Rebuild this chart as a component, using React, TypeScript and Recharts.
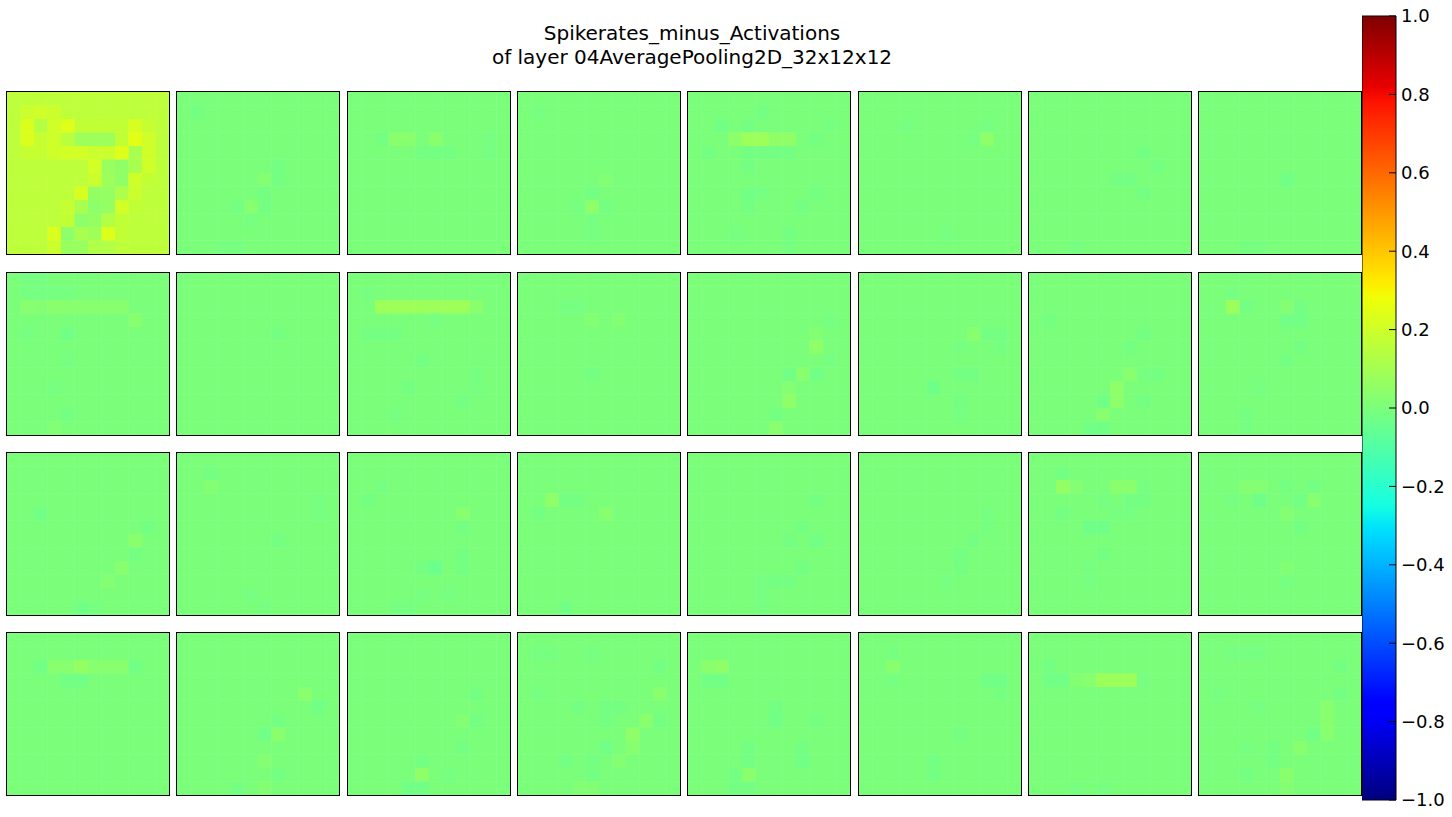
import { ScatterChart, Scatter, XAxis, YAxis, BarChart, Bar } from "recharts";

type Cell = [number, number, number]; // row, col, value

// map 0: the digit, every cell read
const digitMap: number[][] = [
  [0.16, 0.16, 0.16, 0.16, 0.16, 0.16, 0.16, 0.16, 0.16, 0.16, 0.16, 0.16],
  [0.16, 0.19, 0.2, 0.19, 0.16, 0.16, 0.16, 0.16, 0.16, 0.16, 0.16, 0.16],
  [0.16, 0.23, 0.14, 0.2, 0.24, 0.17, 0.17, 0.17, 0.17, 0.22, 0.18, 0.16],
  [0.16, 0.23, 0.18, 0.2, 0.15, 0.08, 0.08, 0.08, 0.17, 0.25, 0.2, 0.16],
  [0.16, 0.18, 0.18, 0.2, 0.21, 0.21, 0.19, 0.19, 0.24, 0.11, 0.2, 0.16],
  [0.16, 0.16, 0.16, 0.16, 0.16, 0.16, 0.21, 0.07, 0.05, 0.11, 0.2, 0.16],
  [0.16, 0.16, 0.16, 0.16, 0.16, 0.16, 0.19, 0.08, 0.05, 0.2, 0.17, 0.16],
  [0.16, 0.16, 0.16, 0.16, 0.16, 0.22, 0.06, 0.06, 0.12, 0.19, 0.16, 0.16],
  [0.16, 0.16, 0.16, 0.16, 0.18, 0.11, 0.04, 0.06, 0.21, 0.17, 0.16, 0.16],
  [0.16, 0.16, 0.16, 0.16, 0.17, 0.04, 0.06, 0.13, 0.17, 0.16, 0.16, 0.16],
  [0.16, 0.16, 0.16, 0.23, 0.04, 0.11, 0.09, 0.24, 0.17, 0.16, 0.16, 0.16],
  [0.16, 0.16, 0.16, 0.19, 0.07, 0.07, 0.13, 0.13, 0.16, 0.16, 0.16, 0.16],
];

// maps 1..31: zero everywhere except the cells listed
const mapsRow0: Cell[][] = [
  [[1, 1, -0.018], [5, 7, -0.018], [6, 7, -0.018], [6, 6, 0.02], [7, 6, -0.018], [8, 6, -0.018], [8, 4, -0.018], [8, 5, 0.03], [9, 5, -0.012], [11, 3, -0.012], [11, 4, -0.012]],
  [[3, 2, -0.018], [3, 3, 0.035], [3, 4, 0.035], [3, 6, 0.035], [4, 5, -0.018], [4, 6, -0.018], [4, 7, -0.018], [3, 10, -0.012], [4, 10, -0.012]],
  [[1, 1, -0.012], [6, 6, 0.015], [7, 5, -0.018], [8, 4, -0.012], [8, 5, 0.045], [8, 6, -0.018], [9, 5, -0.012], [10, 5, -0.012]],
  [[1, 5, -0.018], [2, 2, -0.025], [2, 4, -0.018], [2, 10, -0.012], [3, 3, 0.04], [3, 4, 0.08], [3, 5, 0.08], [3, 6, 0.05], [3, 7, 0.05], [3, 9, -0.018], [4, 1, -0.018], [4, 4, -0.018], [4, 5, -0.018], [4, 6, -0.018], [4, 7, -0.018], [5, 4, -0.018], [7, 4, -0.025], [7, 5, -0.012], [7, 9, -0.018], [8, 4, -0.018], [8, 8, -0.018], [10, 3, -0.012], [10, 7, -0.018], [11, 7, -0.012]],
  [[2, 3, -0.012], [2, 9, -0.012], [3, 8, -0.012], [3, 9, 0.045], [10, 6, -0.012]],
  [[4, 8, -0.018], [5, 9, -0.018], [6, 6, -0.018], [6, 7, -0.018], [7, 8, -0.018], [11, 3, -0.012]],
  [[6, 6, -0.025], [11, 3, -0.012], [11, 4, -0.012]],
];

const mapsRow1: Cell[][] = [
  [[0, 1, -0.012], [0, 2, -0.012], [1, 1, -0.012], [1, 2, -0.012], [1, 3, -0.012], [1, 4, -0.012], [2, 1, 0.03], [2, 2, 0.02], [2, 3, 0.035], [2, 4, 0.03], [2, 5, 0.03], [2, 6, 0.03], [2, 7, 0.03], [2, 8, 0.03], [3, 9, 0.03], [4, 1, -0.012], [4, 4, -0.025], [6, 4, -0.012], [8, 3, -0.012], [10, 4, -0.018], [11, 3, 0.015]],
  [[4, 7, -0.018]],
  [[1, 1, -0.012], [2, 2, 0.08], [2, 3, 0.08], [2, 4, 0.08], [2, 5, 0.08], [2, 6, 0.08], [2, 7, 0.08], [2, 8, 0.08], [2, 9, 0.035], [3, 6, -0.012], [4, 1, -0.018], [4, 2, -0.018], [4, 3, -0.018], [6, 5, -0.018], [7, 9, -0.012], [8, 9, -0.012], [8, 4, -0.018], [9, 8, -0.018], [10, 3, -0.012]],
  [[2, 3, -0.012], [2, 4, -0.012], [3, 5, 0.02], [3, 7, 0.02], [7, 5, -0.018]],
  [[3, 10, -0.012], [4, 9, 0.02], [5, 9, 0.045], [6, 10, -0.012], [7, 7, -0.025], [7, 8, 0.03], [7, 9, -0.025], [8, 7, 0.02], [9, 7, 0.045], [10, 6, -0.018], [11, 6, 0.035]],
  [[4, 8, 0.03], [4, 9, -0.018], [4, 10, -0.018], [5, 7, -0.012], [5, 10, -0.012], [7, 7, -0.018], [7, 8, -0.018], [8, 5, -0.03], [9, 7, -0.018], [10, 7, -0.012]],
  [[3, 1, -0.018], [4, 8, -0.018], [5, 7, -0.018], [7, 7, 0.03], [7, 8, -0.012], [7, 9, -0.018], [8, 6, 0.045], [9, 5, -0.025], [9, 6, 0.045], [9, 8, -0.018], [10, 5, 0.03], [11, 4, -0.025], [11, 5, -0.025]],
  [[1, 2, -0.012], [2, 2, 0.08], [2, 3, -0.018], [2, 6, 0.02], [2, 7, -0.018], [3, 6, -0.025], [3, 7, -0.025], [5, 7, -0.018], [6, 6, -0.018], [8, 4, -0.012], [10, 3, -0.018], [11, 3, -0.012]],
];

const mapsRow2: Cell[][] = [
  [[4, 2, -0.025], [5, 10, -0.018], [6, 9, 0.035], [7, 9, -0.018], [8, 8, 0.03], [9, 7, 0.02], [11, 5, -0.025], [11, 6, -0.012]],
  [[1, 2, -0.018], [2, 2, 0.02], [3, 10, -0.012], [4, 10, -0.012], [6, 7, -0.018], [10, 5, -0.012], [11, 6, -0.012]],
  [[2, 2, -0.012], [3, 1, -0.018], [4, 8, 0.03], [5, 8, -0.018], [7, 8, -0.018], [8, 5, -0.018], [8, 6, -0.04], [8, 8, -0.018], [10, 5, -0.012], [10, 7, -0.012], [11, 3, -0.012], [11, 4, -0.012]],
  [[3, 2, 0.045], [3, 3, -0.018], [3, 4, -0.018], [4, 1, -0.018], [4, 6, 0.03], [11, 3, -0.025]],
  [[3, 9, -0.018], [5, 8, -0.018], [6, 7, -0.018], [6, 9, -0.025], [8, 8, -0.018], [9, 5, -0.012], [9, 6, -0.018], [9, 7, -0.018], [10, 5, -0.012], [11, 5, -0.012]],
  [[4, 9, -0.012], [5, 9, -0.012], [6, 8, -0.018], [7, 7, -0.018], [8, 7, -0.018], [9, 6, -0.012]],
  [[1, 2, -0.018], [2, 2, 0.06], [2, 3, 0.02], [2, 6, 0.035], [2, 7, 0.035], [2, 8, -0.012], [3, 5, -0.012], [3, 7, -0.018], [3, 8, -0.018], [4, 2, -0.018], [4, 6, -0.012], [4, 7, -0.012], [5, 4, -0.03], [5, 5, -0.03], [7, 5, -0.018], [8, 4, -0.012], [9, 4, -0.012]],
  [[2, 3, 0.02], [2, 4, 0.02], [2, 6, -0.018], [2, 8, -0.018], [3, 2, -0.012], [3, 4, -0.03], [3, 7, -0.025], [3, 8, 0.03], [4, 6, 0.02], [5, 7, -0.018], [8, 6, 0.015], [9, 6, -0.012]],
];

const mapsRow3: Cell[][] = [
  [[2, 2, -0.025], [2, 3, 0.03], [2, 4, 0.03], [2, 5, 0.06], [2, 6, 0.03], [2, 7, 0.03], [2, 8, 0.03], [2, 9, -0.025], [3, 4, -0.025], [3, 5, -0.025]],
  [[4, 9, 0.035], [5, 10, -0.025], [6, 7, -0.018], [7, 6, -0.025], [7, 7, 0.035], [9, 6, 0.02], [10, 7, -0.018], [11, 4, -0.018], [11, 6, 0.02]],
  [[4, 9, -0.018], [6, 8, 0.02], [6, 9, -0.018], [8, 8, -0.018], [9, 5, -0.018], [10, 5, 0.045], [10, 7, -0.012], [11, 4, -0.025], [11, 5, -0.025]],
  [[1, 1, -0.012], [1, 2, -0.012], [1, 5, -0.012], [2, 10, -0.018], [4, 1, -0.012], [4, 10, 0.035], [5, 4, -0.018], [5, 6, -0.018], [5, 7, -0.018], [6, 6, -0.018], [6, 9, 0.035], [6, 10, -0.018], [7, 8, 0.045], [8, 6, -0.025], [8, 8, 0.03], [9, 3, -0.018], [9, 5, -0.018], [9, 7, 0.02], [10, 5, -0.018], [11, 4, 0.015], [11, 5, 0.015]],
  [[2, 1, 0.035], [2, 2, 0.05], [3, 1, -0.025], [3, 2, -0.025], [5, 6, -0.018], [6, 6, -0.025], [6, 9, -0.018], [8, 4, -0.018], [8, 8, -0.018], [9, 4, -0.018], [9, 8, -0.025], [10, 3, -0.018], [10, 4, 0.035], [11, 3, -0.018], [11, 4, -0.018]],
  [[1, 2, -0.012], [2, 2, 0.03], [3, 2, -0.012], [3, 9, -0.025], [3, 10, -0.025], [4, 10, -0.012], [7, 7, -0.018], [9, 5, -0.018], [10, 5, -0.018]],
  [[2, 1, -0.018], [3, 1, -0.025], [3, 2, -0.025], [3, 3, 0.02], [3, 4, 0.03], [3, 5, 0.08], [3, 6, 0.08], [3, 7, 0.08], [3, 8, -0.012], [11, 3, -0.012], [11, 5, -0.012]],
  [[1, 2, -0.012], [1, 3, -0.012], [1, 4, -0.012], [2, 10, -0.018], [4, 1, -0.012], [4, 10, -0.018], [5, 4, -0.012], [5, 9, 0.03], [6, 9, 0.035], [7, 8, -0.025], [7, 9, 0.03], [8, 3, -0.012], [8, 5, -0.018], [8, 7, 0.03], [9, 5, -0.018], [10, 3, -0.018], [10, 6, 0.035], [11, 6, 0.02]],
];

const colorbarTicks = [-1, -0.8, -0.6, -0.4, -0.2, 0, 0.2, 0.4, 0.6, 0.8, 1];
const titleLines = ["Spikerates_minus_Activations", "of layer 04AveragePooling2D_32x12x12"];

const SIZE = 12;
const PLOT = 162;
const CELL = PLOT / SIZE;
const colLeft = (i: number) => Math.round(7 + i * 170.3);
const rowTops = [92, 273, 453, 633];
const FONT = "'DejaVu Sans', sans-serif";

// matplotlib "jet"
function jet(v: number) {
  const t = Math.max(0, Math.min(1, (v + 1) / 2));
  const clamp = (x: number) => Math.max(0, Math.min(1, x));
  let r = 0, g = 0, b = 0;
  if (t < 0.35) r = 0;
  else if (t < 0.66) r = (t - 0.35) / 0.31;
  else if (t < 0.89) r = 1;
  else r = 1 - ((t - 0.89) / 0.11) * 0.5;
  if (t < 0.125) g = 0;
  else if (t < 0.375) g = (t - 0.125) / 0.25;
  else if (t < 0.64) g = 1;
  else if (t < 0.91) g = 1 - (t - 0.64) / 0.27;
  else g = 0;
  if (t < 0.11) b = 0.5 + (t / 0.11) * 0.5;
  else if (t < 0.34) b = 1;
  else if (t < 0.65) b = 1 - (t - 0.34) / 0.31;
  else b = 0;
  const h = (x: number) => Math.round(clamp(x) * 255);
  return `rgb(${h(r)},${h(g)},${h(b)})`;
}

const allSparse = [...mapsRow0, ...mapsRow1, ...mapsRow2, ...mapsRow3];

function cellsFor(index: number) {
  const grid: number[][] =
    index === 0
      ? digitMap
      : Array.from({ length: SIZE }, () => Array(SIZE).fill(0));
  if (index > 0) {
    allSparse[index - 1].forEach(([r, c, v]) => {
      grid[r][c] = v;
    });
  }
  const out: { x: number; y: number; v: number }[] = [];
  grid.forEach((row, r) => row.forEach((v, c) => out.push({ x: c + 0.5, y: r + 0.5, v })));
  return out;
}

const CellShape = (props: any) => {
  const { cx, cy, payload } = props;
  return (
    <rect
      x={cx - CELL / 2}
      y={cy - CELL / 2}
      width={CELL + 0.4}
      height={CELL + 0.4}
      fill={jet(payload.v)}
    />
  );
};

function Panel({ index }: { index: number }) {
  const col = index % 8;
  const row = Math.floor(index / 8);
  const left = colLeft(col);
  const top = rowTops[row];
  return (
    <>
      <div style={{ position: "absolute", left, top }}>
        <ScatterChart width={PLOT} height={PLOT} margin={{ top: 0, right: 0, bottom: 0, left: 0 }}>
          <XAxis type="number" dataKey="x" domain={[0, SIZE]} hide />
          <YAxis type="number" dataKey="y" domain={[0, SIZE]} reversed hide />
          <Scatter data={cellsFor(index)} shape={CellShape} isAnimationActive={false} />
        </ScatterChart>
      </div>
      {/* axes frame */}
      <div
        style={{
          position: "absolute",
          left: left - 1,
          top: top - 1,
          width: PLOT + 2,
          height: PLOT + 2,
          border: "1px solid #000",
          boxSizing: "border-box",
          pointerEvents: "none",
        }}
      />
    </>
  );
}

const ColorbarTick = (props: any) => {
  const { x, y, payload } = props;
  const v = payload.value as number;
  const label = (v < 0 ? "\u2212" : "") + Math.abs(v).toFixed(1);
  return (
    <g>
      <line x1={x - 12} x2={x - 5} y1={y} y2={y} stroke="#000" strokeWidth={1} />
      <text x={x} y={y} dy="0.36em" textAnchor="start" fontSize={18} fontFamily={FONT} fill="#000">
        {label}
      </text>
    </g>
  );
};

const gradientStops = Array.from({ length: 101 }, (_, i) => i / 100);

function Colorbar() {
  return (
    <div style={{ position: "absolute", left: 1362, top: 6 }}>
      <BarChart
        width={100}
        height={804}
        data={[{ name: "cb", range: [-1, 1] }]}
        margin={{ top: 10, right: 6, bottom: 10, left: 0 }}
        barCategoryGap={0}
      >
        <defs>
          <linearGradient id="jetGrad" x1="0" y1="1" x2="0" y2="0">
            {gradientStops.map((t) => (
              <stop key={t} offset={t} stopColor={jet(t * 2 - 1)} />
            ))}
          </linearGradient>
        </defs>
        <XAxis dataKey="name" hide />
        <YAxis
          orientation="right"
          type="number"
          domain={[-1, 1]}
          ticks={colorbarTicks}
          width={60}
          axisLine={false}
          tickLine={false}
          tickSize={0}
          tickMargin={5}
          tick={ColorbarTick}
          interval={0}
        />
        <Bar dataKey="range" fill="url(#jetGrad)" stroke="#000" strokeWidth={1} isAnimationActive={false} />
      </BarChart>
    </div>
  );
}

export default function App() {
  return (
    <div style={{ position: "absolute", left: 0, top: 0, width: 1452, height: 817, background: "#fff", overflow: "hidden" }}>
      <div
        style={{
          position: "absolute",
          left: 0,
          top: 21,
          width: 1384,
          textAlign: "center",
          fontFamily: FONT,
          fontSize: 20,
          lineHeight: "24px",
          color: "#000",
        }}
      >
        {titleLines.map((l) => (
          <div key={l}>{l}</div>
        ))}
      </div>
      {Array.from({ length: 32 }, (_, i) => (
        <Panel key={i} index={i} />
      ))}
      <Colorbar />
    </div>
  );
}
